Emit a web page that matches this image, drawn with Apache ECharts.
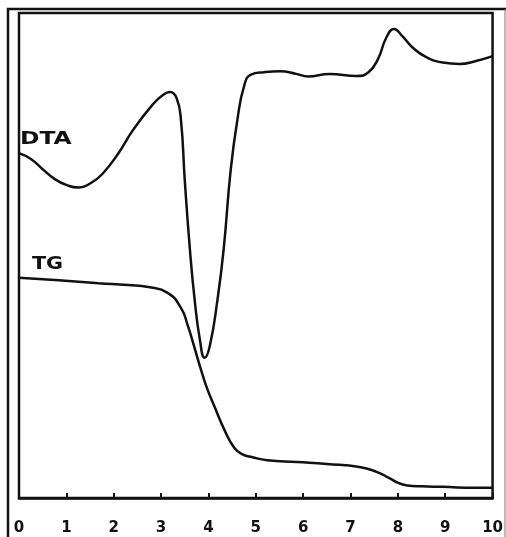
<!DOCTYPE html>
<html>
<head>
<meta charset="utf-8">
<script src="https://cdn.jsdelivr.net/npm/echarts@6/dist/echarts.min.js"></script>
<style>
html,body{margin:0;padding:0;background:#fff;}
#chart{width:506px;height:537px;}
</style>
</head>
<body>
<div id="chart"></div>
<script>
// x-axis ticks
const xTicks = [0, 1, 2, 3, 4, 5, 6, 7, 8, 9, 10];

// DTA curve (x, relative signal 0-100)
const dtaX = [0, 0.25, 0.50, 0.75, 1.01, 1.26, 1.51, 1.76, 2.10, 2.41, 2.83, 3.04, 3.19, 3.33, 3.42, 3.50, 3.61, 3.71, 3.82, 3.92, 4.03, 4.19, 4.32, 4.47, 4.61, 4.76, 4.90, 5.18, 5.51, 5.87, 6.10, 6.56, 7.13, 7.38, 7.58, 7.76, 7.92, 8.08, 8.30, 8.60, 8.95, 9.30, 9.65, 10.0];
const dtaY = [71.1, 69.9, 67.8, 65.8, 64.5, 64.0, 64.9, 66.8, 71.1, 75.9, 81.2, 83.1, 83.7, 82.4, 77.9, 65.6, 51.1, 40.8, 32.6, 28.9, 31.4, 40.8, 51.1, 67.6, 77.9, 85.2, 87.3, 87.8, 88.0, 87.4, 86.9, 87.4, 87.0, 87.8, 90.5, 95.0, 96.7, 95.4, 93.0, 90.9, 89.8, 89.5, 90.1, 91.1];

// TG curve (x, relative mass 0-100)
const tgX = [0, 0.84, 1.68, 2.30, 2.73, 3.14, 3.42, 3.56, 3.69, 3.82, 3.96, 4.13, 4.34, 4.55, 4.72, 4.93, 5.24, 5.87, 6.50, 7.19, 7.55, 7.82, 8.01, 8.20, 8.50, 8.95, 9.64, 10.0];
const tgY = [45.4, 44.9, 44.3, 43.9, 43.5, 42.3, 39.2, 35.7, 31.5, 27.2, 22.9, 18.8, 14.0, 10.3, 9.0, 8.4, 7.8, 7.4, 7.0, 6.4, 5.4, 4.1, 3.1, 2.6, 2.4, 2.3, 2.1, 2.1];

const curveLabels = ['DTA', 'TG'];

const ink = '#111';
const chart = echarts.init(document.getElementById('chart'), null, {renderer: 'canvas'});

chart.setOption({
  animation: false,
  backgroundColor: '#fff',
  grid: {left: 19, right: 9, top: 13, bottom: 39, show: true, borderColor: ink, borderWidth: 2.5, backgroundColor: 'transparent'},
  xAxis: {
    type: 'value', min: xTicks[0], max: xTicks[xTicks.length - 1], interval: 1,
    axisLine: {show: true, lineStyle: {color: ink, width: 2.5}},
    axisTick: {show: true, inside: true, length: 5, lineStyle: {color: ink, width: 2}},
    splitLine: {show: false},
    axisLabel: {color: ink, fontFamily: 'DejaVu Sans', fontWeight: 'bold', fontSize: 15, margin: 23}
  },
  yAxis: {type: 'value', min: 0, max: 100, show: false},
  series: [
    {
      name: curveLabels[0], type: 'line', smooth: 0.5, showSymbol: false,
      lineStyle: {color: ink, width: 2.5},
      data: dtaX.map((x, i) => [x, dtaY[i]])
    },
    {
      name: curveLabels[1], type: 'line', smooth: 0.5, showSymbol: false,
      lineStyle: {color: ink, width: 2.5},
      data: tgX.map((x, i) => [x, tgY[i]])
    }
  ],
  graphic: [
    {type: 'polyline', shape: {points: [[8, 537], [8, 9], [506, 9]]}, style: {stroke: ink, lineWidth: 2.5, fill: null}, silent: true},
    {type: 'line', shape: {x1: 505, y1: 9, x2: 505, y2: 537}, style: {stroke: '#777', lineWidth: 1}, silent: true},
    {type: 'text', x: 20, y: 130, scaleX: 1.3, style: {text: curveLabels[0], font: 'bold 18px "DejaVu Sans"', fill: ink, textVerticalAlign: 'top'}, silent: true},
    {type: 'text', x: 32, y: 255, scaleX: 1.15, style: {text: curveLabels[1], font: 'bold 18px "DejaVu Sans"', fill: ink, textVerticalAlign: 'top'}, silent: true}
  ]
});
</script>
</body>
</html>
